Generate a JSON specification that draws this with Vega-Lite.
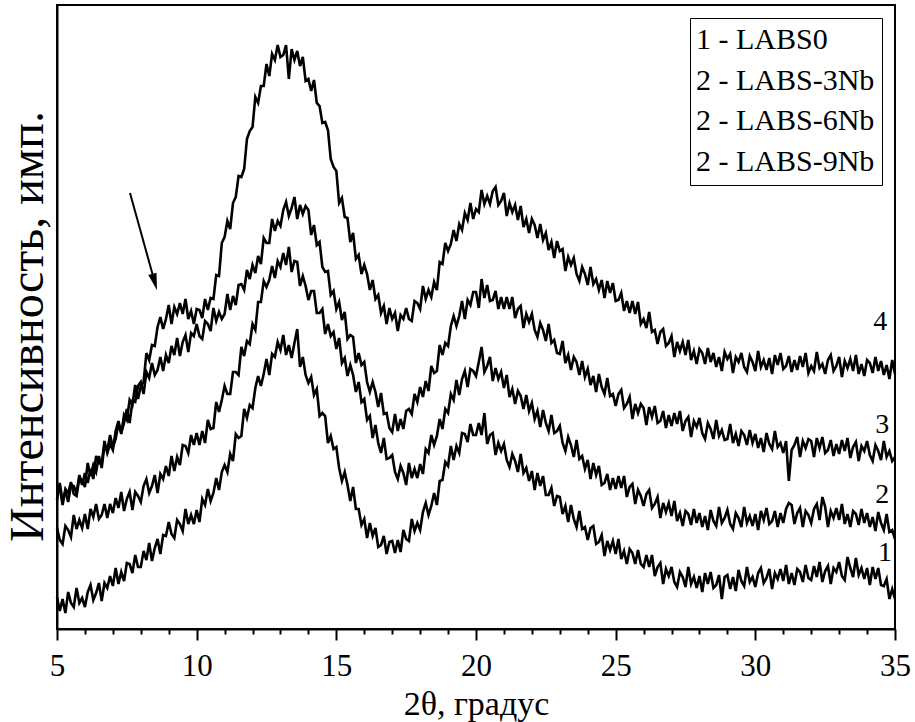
{
"$schema":"https://vega.github.io/schema/vega-lite/v6.json",
"autosize":{"type":"none"},
"width":838,"height":624,
"padding":{"left":57,"top":5,"right":20,"bottom":93},
"background":"white",
"config":{"view":{"stroke":"black","strokeWidth":2},"font":"Liberation Serif",
"axis":{"grid":false,"domainColor":"black","domainWidth":2,"tickColor":"black","tickWidth":2,"labelColor":"black","titleColor":"black","titleFontWeight":"normal","labelFont":"Liberation Serif","titleFont":"Liberation Serif"}},
"datasets":{
"c1":[{"x":5,"y":32},{"x":5.1,"y":18},{"x":5.2,"y":30},{"x":5.3,"y":16},{"x":5.4,"y":37},{"x":5.5,"y":26},{"x":5.6,"y":22},{"x":5.7,"y":41},{"x":5.8,"y":26},{"x":5.9,"y":31},{"x":6,"y":22},{"x":6.1,"y":37},{"x":6.2,"y":44},{"x":6.3,"y":29},{"x":6.4,"y":36},{"x":6.5,"y":46},{"x":6.6,"y":28},{"x":6.7,"y":46},{"x":6.8,"y":41},{"x":6.9,"y":53},{"x":7,"y":43},{"x":7.1,"y":61},{"x":7.2,"y":45},{"x":7.3,"y":57},{"x":7.4,"y":48},{"x":7.5,"y":66},{"x":7.6,"y":65},{"x":7.7,"y":56},{"x":7.8,"y":74},{"x":7.9,"y":62},{"x":8,"y":62},{"x":8.1,"y":78},{"x":8.2,"y":69},{"x":8.3,"y":86},{"x":8.4,"y":68},{"x":8.5,"y":81},{"x":8.6,"y":90},{"x":8.7,"y":75},{"x":8.8,"y":94},{"x":8.9,"y":93},{"x":9,"y":107},{"x":9.1,"y":95},{"x":9.2,"y":91},{"x":9.3,"y":109},{"x":9.4,"y":105},{"x":9.5,"y":98},{"x":9.6,"y":120},{"x":9.7,"y":105},{"x":9.8,"y":114},{"x":9.9,"y":105},{"x":10,"y":119},{"x":10.1,"y":107},{"x":10.2,"y":130},{"x":10.3,"y":124},{"x":10.4,"y":140},{"x":10.5,"y":128},{"x":10.6,"y":136},{"x":10.7,"y":151},{"x":10.8,"y":139},{"x":10.9,"y":157},{"x":11,"y":164},{"x":11.1,"y":157},{"x":11.2,"y":175},{"x":11.3,"y":168},{"x":11.4,"y":195},{"x":11.5,"y":191},{"x":11.6,"y":193},{"x":11.7,"y":220},{"x":11.8,"y":211},{"x":11.9,"y":224},{"x":12,"y":221},{"x":12.1,"y":241},{"x":12.2,"y":253},{"x":12.3,"y":243},{"x":12.4,"y":255},{"x":12.5,"y":270},{"x":12.6,"y":254},{"x":12.7,"y":275},{"x":12.8,"y":272},{"x":12.9,"y":287},{"x":13,"y":279},{"x":13.1,"y":294},{"x":13.2,"y":274},{"x":13.3,"y":284},{"x":13.4,"y":271},{"x":13.5,"y":286},{"x":13.6,"y":300},{"x":13.7,"y":262},{"x":13.8,"y":272},{"x":13.9,"y":254},{"x":14,"y":246},{"x":14.1,"y":252},{"x":14.2,"y":234},{"x":14.3,"y":240},{"x":14.4,"y":213},{"x":14.5,"y":216},{"x":14.6,"y":213},{"x":14.7,"y":186},{"x":14.8,"y":193},{"x":14.9,"y":180},{"x":15,"y":182},{"x":15.1,"y":161},{"x":15.2,"y":148},{"x":15.3,"y":157},{"x":15.4,"y":144},{"x":15.5,"y":128},{"x":15.6,"y":142},{"x":15.7,"y":120},{"x":15.8,"y":120},{"x":15.9,"y":104},{"x":16,"y":110},{"x":16.1,"y":91},{"x":16.2,"y":106},{"x":16.3,"y":93},{"x":16.4,"y":101},{"x":16.5,"y":82},{"x":16.6,"y":84},{"x":16.7,"y":93},{"x":16.8,"y":75},{"x":16.9,"y":87},{"x":17,"y":88},{"x":17.1,"y":76},{"x":17.2,"y":89},{"x":17.3,"y":77},{"x":17.4,"y":99},{"x":17.5,"y":90},{"x":17.6,"y":88},{"x":17.7,"y":110},{"x":17.8,"y":98},{"x":17.9,"y":106},{"x":18,"y":99},{"x":18.1,"y":117},{"x":18.2,"y":126},{"x":18.3,"y":114},{"x":18.4,"y":123},{"x":18.5,"y":136},{"x":18.6,"y":124},{"x":18.7,"y":148},{"x":18.8,"y":149},{"x":18.9,"y":167},{"x":19,"y":163},{"x":19.1,"y":183},{"x":19.2,"y":169},{"x":19.3,"y":183},{"x":19.4,"y":176},{"x":19.5,"y":196},{"x":19.6,"y":195},{"x":19.7,"y":187},{"x":19.8,"y":205},{"x":19.9,"y":194},{"x":20,"y":194},{"x":20.1,"y":206},{"x":20.2,"y":194},{"x":20.3,"y":216},{"x":20.4,"y":185},{"x":20.5,"y":194},{"x":20.6,"y":196},{"x":20.7,"y":174},{"x":20.8,"y":186},{"x":20.9,"y":178},{"x":21,"y":185},{"x":21.1,"y":169},{"x":21.2,"y":162},{"x":21.3,"y":175},{"x":21.4,"y":168},{"x":21.5,"y":157},{"x":21.6,"y":175},{"x":21.7,"y":156},{"x":21.8,"y":161},{"x":21.9,"y":148},{"x":22,"y":158},{"x":22.1,"y":139},{"x":22.2,"y":156},{"x":22.3,"y":143},{"x":22.4,"y":153},{"x":22.5,"y":134},{"x":22.6,"y":134},{"x":22.7,"y":141},{"x":22.8,"y":123},{"x":22.9,"y":133},{"x":23,"y":132},{"x":23.1,"y":115},{"x":23.2,"y":123},{"x":23.3,"y":107},{"x":23.4,"y":124},{"x":23.5,"y":110},{"x":23.6,"y":102},{"x":23.7,"y":118},{"x":23.8,"y":100},{"x":23.9,"y":102},{"x":24,"y":89},{"x":24.1,"y":101},{"x":24.2,"y":103},{"x":24.3,"y":85},{"x":24.4,"y":87},{"x":24.5,"y":94},{"x":24.6,"y":73},{"x":24.7,"y":88},{"x":24.8,"y":79},{"x":24.9,"y":88},{"x":25,"y":75},{"x":25.1,"y":90},{"x":25.2,"y":70},{"x":25.3,"y":78},{"x":25.4,"y":65},{"x":25.5,"y":80},{"x":25.6,"y":76},{"x":25.7,"y":65},{"x":25.8,"y":79},{"x":25.9,"y":65},{"x":26,"y":62},{"x":26.1,"y":74},{"x":26.2,"y":62},{"x":26.3,"y":74},{"x":26.4,"y":53},{"x":26.5,"y":62},{"x":26.6,"y":66},{"x":26.7,"y":45},{"x":26.8,"y":60},{"x":26.9,"y":53},{"x":27,"y":62},{"x":27.1,"y":47},{"x":27.2,"y":42},{"x":27.3,"y":57},{"x":27.4,"y":52},{"x":27.5,"y":42},{"x":27.6,"y":62},{"x":27.7,"y":45},{"x":27.8,"y":52},{"x":27.9,"y":41},{"x":28,"y":53},{"x":28.1,"y":37},{"x":28.2,"y":56},{"x":28.3,"y":45},{"x":28.4,"y":57},{"x":28.5,"y":41},{"x":28.6,"y":44},{"x":28.7,"y":54},{"x":28.8,"y":30},{"x":28.9,"y":52},{"x":29,"y":54},{"x":29.1,"y":40},{"x":29.2,"y":52},{"x":29.3,"y":38},{"x":29.4,"y":59},{"x":29.5,"y":48},{"x":29.6,"y":43},{"x":29.7,"y":62},{"x":29.8,"y":47},{"x":29.9,"y":52},{"x":30,"y":42},{"x":30.1,"y":56},{"x":30.2,"y":61},{"x":30.3,"y":46},{"x":30.4,"y":51},{"x":30.5,"y":60},{"x":30.6,"y":40},{"x":30.7,"y":56},{"x":30.8,"y":50},{"x":30.9,"y":60},{"x":31,"y":48},{"x":31.1,"y":64},{"x":31.2,"y":45},{"x":31.3,"y":56},{"x":31.4,"y":44},{"x":31.5,"y":60},{"x":31.6,"y":57},{"x":31.7,"y":47},{"x":31.8,"y":64},{"x":31.9,"y":51},{"x":32,"y":49},{"x":32.1,"y":63},{"x":32.2,"y":52},{"x":32.3,"y":67},{"x":32.4,"y":47},{"x":32.5,"y":58},{"x":32.6,"y":63},{"x":32.7,"y":45},{"x":32.8,"y":61},{"x":32.9,"y":57},{"x":33,"y":67},{"x":33.1,"y":53},{"x":33.2,"y":49},{"x":33.3,"y":72},{"x":33.4,"y":61},{"x":33.5,"y":52},{"x":33.6,"y":71},{"x":33.7,"y":54},{"x":33.8,"y":61},{"x":33.9,"y":50},{"x":34,"y":61},{"x":34.1,"y":44},{"x":34.2,"y":62},{"x":34.3,"y":50},{"x":34.4,"y":61},{"x":34.5,"y":44},{"x":34.6,"y":43},{"x":34.7,"y":50},{"x":34.8,"y":30},{"x":34.9,"y":40},{"x":35,"y":30}],
"c2":[{"x":5,"y":101},{"x":5.1,"y":89},{"x":5.2,"y":85},{"x":5.3,"y":103},{"x":5.4,"y":99},{"x":5.5,"y":92},{"x":5.6,"y":114},{"x":5.7,"y":100},{"x":5.8,"y":109},{"x":5.9,"y":101},{"x":6,"y":115},{"x":6.1,"y":100},{"x":6.2,"y":120},{"x":6.3,"y":112},{"x":6.4,"y":125},{"x":6.5,"y":110},{"x":6.6,"y":114},{"x":6.7,"y":125},{"x":6.8,"y":111},{"x":6.9,"y":125},{"x":7,"y":116},{"x":7.1,"y":131},{"x":7.2,"y":121},{"x":7.3,"y":137},{"x":7.4,"y":118},{"x":7.5,"y":130},{"x":7.6,"y":137},{"x":7.7,"y":119},{"x":7.8,"y":137},{"x":7.9,"y":133},{"x":8,"y":127},{"x":8.1,"y":143},{"x":8.2,"y":150},{"x":8.3,"y":136},{"x":8.4,"y":143},{"x":8.5,"y":154},{"x":8.6,"y":136},{"x":8.7,"y":155},{"x":8.8,"y":150},{"x":8.9,"y":163},{"x":9,"y":153},{"x":9.1,"y":173},{"x":9.2,"y":158},{"x":9.3,"y":172},{"x":9.4,"y":164},{"x":9.5,"y":184},{"x":9.6,"y":183},{"x":9.7,"y":176},{"x":9.8,"y":194},{"x":9.9,"y":184},{"x":10,"y":196},{"x":10.1,"y":184},{"x":10.2,"y":198},{"x":10.3,"y":186},{"x":10.4,"y":209},{"x":10.5,"y":200},{"x":10.6,"y":201},{"x":10.7,"y":227},{"x":10.8,"y":217},{"x":10.9,"y":229},{"x":11,"y":243},{"x":11.1,"y":235},{"x":11.2,"y":235},{"x":11.3,"y":257},{"x":11.4,"y":257},{"x":11.5,"y":254},{"x":11.6,"y":282},{"x":11.7,"y":273},{"x":11.8,"y":288},{"x":11.9,"y":285},{"x":12,"y":305},{"x":12.1,"y":299},{"x":12.2,"y":327},{"x":12.3,"y":327},{"x":12.4,"y":348},{"x":12.5,"y":342},{"x":12.6,"y":349},{"x":12.7,"y":363},{"x":12.8,"y":351},{"x":12.9,"y":368},{"x":13,"y":362},{"x":13.1,"y":376},{"x":13.2,"y":364},{"x":13.3,"y":382},{"x":13.4,"y":357},{"x":13.5,"y":368},{"x":13.6,"y":367},{"x":13.7,"y":343},{"x":13.8,"y":353},{"x":13.9,"y":343},{"x":14,"y":329},{"x":14.1,"y":338},{"x":14.2,"y":338},{"x":14.3,"y":316},{"x":14.4,"y":316},{"x":14.5,"y":320},{"x":14.6,"y":295},{"x":14.7,"y":305},{"x":14.8,"y":293},{"x":14.9,"y":297},{"x":15,"y":280},{"x":15.1,"y":291},{"x":15.2,"y":266},{"x":15.3,"y":271},{"x":15.4,"y":253},{"x":15.5,"y":264},{"x":15.6,"y":254},{"x":15.7,"y":237},{"x":15.8,"y":247},{"x":15.9,"y":227},{"x":16,"y":230},{"x":16.1,"y":209},{"x":16.2,"y":213},{"x":16.3,"y":191},{"x":16.4,"y":204},{"x":16.5,"y":186},{"x":16.6,"y":176},{"x":16.7,"y":191},{"x":16.8,"y":170},{"x":16.9,"y":171},{"x":17,"y":174},{"x":17.1,"y":157},{"x":17.2,"y":150},{"x":17.3,"y":163},{"x":17.4,"y":156},{"x":17.5,"y":144},{"x":17.6,"y":166},{"x":17.7,"y":151},{"x":17.8,"y":160},{"x":17.9,"y":151},{"x":18,"y":165},{"x":18.1,"y":155},{"x":18.2,"y":180},{"x":18.3,"y":176},{"x":18.4,"y":194},{"x":18.5,"y":184},{"x":18.6,"y":193},{"x":18.7,"y":210},{"x":18.8,"y":200},{"x":18.9,"y":220},{"x":19,"y":216},{"x":19.1,"y":235},{"x":19.2,"y":229},{"x":19.3,"y":249},{"x":19.4,"y":234},{"x":19.5,"y":250},{"x":19.6,"y":258},{"x":19.7,"y":242},{"x":19.8,"y":260},{"x":19.9,"y":258},{"x":20,"y":253},{"x":20.1,"y":267},{"x":20.2,"y":282},{"x":20.3,"y":257},{"x":20.4,"y":263},{"x":20.5,"y":272},{"x":20.6,"y":248},{"x":20.7,"y":261},{"x":20.8,"y":250},{"x":20.9,"y":257},{"x":21,"y":241},{"x":21.1,"y":254},{"x":21.2,"y":232},{"x":21.3,"y":240},{"x":21.4,"y":225},{"x":21.5,"y":238},{"x":21.6,"y":233},{"x":21.7,"y":220},{"x":21.8,"y":234},{"x":21.9,"y":218},{"x":22,"y":226},{"x":22.1,"y":210},{"x":22.2,"y":218},{"x":22.3,"y":202},{"x":22.4,"y":219},{"x":22.5,"y":206},{"x":22.6,"y":198},{"x":22.7,"y":214},{"x":22.8,"y":196},{"x":22.9,"y":198},{"x":23,"y":203},{"x":23.1,"y":186},{"x":23.2,"y":178},{"x":23.3,"y":192},{"x":23.4,"y":184},{"x":23.5,"y":172},{"x":23.6,"y":189},{"x":23.7,"y":170},{"x":23.8,"y":173},{"x":23.9,"y":160},{"x":24,"y":169},{"x":24.1,"y":150},{"x":24.2,"y":166},{"x":24.3,"y":154},{"x":24.4,"y":163},{"x":24.5,"y":144},{"x":24.6,"y":146},{"x":24.7,"y":155},{"x":24.8,"y":139},{"x":24.9,"y":151},{"x":25,"y":140},{"x":25.1,"y":153},{"x":25.2,"y":141},{"x":25.3,"y":153},{"x":25.4,"y":132},{"x":25.5,"y":142},{"x":25.6,"y":145},{"x":25.7,"y":125},{"x":25.8,"y":139},{"x":25.9,"y":133},{"x":26,"y":123},{"x":26.1,"y":135},{"x":26.2,"y":139},{"x":26.3,"y":121},{"x":26.4,"y":125},{"x":26.5,"y":132},{"x":26.6,"y":111},{"x":26.7,"y":126},{"x":26.8,"y":117},{"x":26.9,"y":126},{"x":27,"y":113},{"x":27.1,"y":128},{"x":27.2,"y":108},{"x":27.3,"y":116},{"x":27.4,"y":103},{"x":27.5,"y":118},{"x":27.6,"y":115},{"x":27.7,"y":104},{"x":27.8,"y":120},{"x":27.9,"y":106},{"x":28,"y":116},{"x":28.1,"y":102},{"x":28.2,"y":113},{"x":28.3,"y":99},{"x":28.4,"y":119},{"x":28.5,"y":108},{"x":28.6,"y":103},{"x":28.7,"y":122},{"x":28.8,"y":106},{"x":28.9,"y":111},{"x":29,"y":119},{"x":29.1,"y":105},{"x":29.2,"y":100},{"x":29.3,"y":116},{"x":29.4,"y":111},{"x":29.5,"y":102},{"x":29.6,"y":122},{"x":29.7,"y":106},{"x":29.8,"y":113},{"x":29.9,"y":103},{"x":30,"y":115},{"x":30.1,"y":99},{"x":30.2,"y":118},{"x":30.3,"y":109},{"x":30.4,"y":121},{"x":30.5,"y":105},{"x":30.6,"y":108},{"x":30.7,"y":118},{"x":30.8,"y":102},{"x":30.9,"y":116},{"x":31,"y":106},{"x":31.1,"y":120},{"x":31.2,"y":126},{"x":31.3,"y":124},{"x":31.4,"y":105},{"x":31.5,"y":116},{"x":31.6,"y":121},{"x":31.7,"y":102},{"x":31.8,"y":118},{"x":31.9,"y":114},{"x":32,"y":106},{"x":32.1,"y":120},{"x":32.2,"y":125},{"x":32.3,"y":109},{"x":32.4,"y":132},{"x":32.5,"y":122},{"x":32.6,"y":102},{"x":32.7,"y":118},{"x":32.8,"y":111},{"x":32.9,"y":121},{"x":33,"y":109},{"x":33.1,"y":125},{"x":33.2,"y":105},{"x":33.3,"y":115},{"x":33.4,"y":102},{"x":33.5,"y":118},{"x":33.6,"y":115},{"x":33.7,"y":104},{"x":33.8,"y":120},{"x":33.9,"y":106},{"x":34,"y":116},{"x":34.1,"y":102},{"x":34.2,"y":112},{"x":34.3,"y":98},{"x":34.4,"y":117},{"x":34.5,"y":106},{"x":34.6,"y":99},{"x":34.7,"y":115},{"x":34.8,"y":97},{"x":34.9,"y":99},{"x":35,"y":90}],
"c3":[{"x":5,"y":129},{"x":5.1,"y":146},{"x":5.2,"y":128},{"x":5.3,"y":138},{"x":5.4,"y":127},{"x":5.5,"y":144},{"x":5.6,"y":143},{"x":5.7,"y":136},{"x":5.8,"y":154},{"x":5.9,"y":144},{"x":6,"y":156},{"x":6.1,"y":146},{"x":6.2,"y":160},{"x":6.3,"y":150},{"x":6.4,"y":173},{"x":6.5,"y":166},{"x":6.6,"y":165},{"x":6.7,"y":188},{"x":6.8,"y":176},{"x":6.9,"y":185},{"x":7,"y":179},{"x":7.1,"y":198},{"x":7.2,"y":208},{"x":7.3,"y":196},{"x":7.4,"y":206},{"x":7.5,"y":220},{"x":7.6,"y":206},{"x":7.7,"y":228},{"x":7.8,"y":227},{"x":7.9,"y":243},{"x":8,"y":247},{"x":8.1,"y":235},{"x":8.2,"y":257},{"x":8.3,"y":251},{"x":8.4,"y":266},{"x":8.5,"y":254},{"x":8.6,"y":259},{"x":8.7,"y":272},{"x":8.8,"y":258},{"x":8.9,"y":274},{"x":9,"y":266},{"x":9.1,"y":283},{"x":9.2,"y":274},{"x":9.3,"y":291},{"x":9.4,"y":273},{"x":9.5,"y":287},{"x":9.6,"y":294},{"x":9.7,"y":277},{"x":9.8,"y":296},{"x":9.9,"y":293},{"x":10,"y":305},{"x":10.1,"y":293},{"x":10.2,"y":290},{"x":10.3,"y":308},{"x":10.4,"y":305},{"x":10.5,"y":298},{"x":10.6,"y":321},{"x":10.7,"y":308},{"x":10.8,"y":317},{"x":10.9,"y":310},{"x":11,"y":315},{"x":11.1,"y":335},{"x":11.2,"y":319},{"x":11.3,"y":333},{"x":11.4,"y":324},{"x":11.5,"y":344},{"x":11.6,"y":345},{"x":11.7,"y":339},{"x":11.8,"y":359},{"x":11.9,"y":350},{"x":12,"y":364},{"x":12.1,"y":356},{"x":12.2,"y":373},{"x":12.3,"y":365},{"x":12.4,"y":391},{"x":12.5,"y":386},{"x":12.6,"y":386},{"x":12.7,"y":410},{"x":12.8,"y":398},{"x":12.9,"y":408},{"x":13,"y":403},{"x":13.1,"y":419},{"x":13.2,"y":427},{"x":13.3,"y":413},{"x":13.4,"y":421},{"x":13.5,"y":432},{"x":13.6,"y":410},{"x":13.7,"y":424},{"x":13.8,"y":415},{"x":13.9,"y":423},{"x":14,"y":419},{"x":14.1,"y":394},{"x":14.2,"y":404},{"x":14.3,"y":384},{"x":14.4,"y":387},{"x":14.5,"y":362},{"x":14.6,"y":357},{"x":14.7,"y":358},{"x":14.8,"y":334},{"x":14.9,"y":338},{"x":15,"y":320},{"x":15.1,"y":327},{"x":15.2,"y":309},{"x":15.3,"y":317},{"x":15.4,"y":290},{"x":15.5,"y":294},{"x":15.6,"y":292},{"x":15.7,"y":266},{"x":15.8,"y":276},{"x":15.9,"y":264},{"x":16,"y":267},{"x":16.1,"y":247},{"x":16.2,"y":237},{"x":16.3,"y":247},{"x":16.4,"y":237},{"x":16.5,"y":222},{"x":16.6,"y":236},{"x":16.7,"y":215},{"x":16.8,"y":216},{"x":16.9,"y":201},{"x":17,"y":197},{"x":17.1,"y":215},{"x":17.2,"y":198},{"x":17.3,"y":210},{"x":17.4,"y":200},{"x":17.5,"y":218},{"x":17.6,"y":220},{"x":17.7,"y":215},{"x":17.8,"y":235},{"x":17.9,"y":227},{"x":18,"y":242},{"x":18.1,"y":232},{"x":18.2,"y":248},{"x":18.3,"y":238},{"x":18.4,"y":263},{"x":18.5,"y":256},{"x":18.6,"y":258},{"x":18.7,"y":284},{"x":18.8,"y":274},{"x":18.9,"y":286},{"x":19,"y":283},{"x":19.1,"y":303},{"x":19.2,"y":313},{"x":19.3,"y":303},{"x":19.4,"y":313},{"x":19.5,"y":328},{"x":19.6,"y":310},{"x":19.7,"y":329},{"x":19.8,"y":324},{"x":19.9,"y":337},{"x":20,"y":337},{"x":20.1,"y":321},{"x":20.2,"y":350},{"x":20.3,"y":331},{"x":20.4,"y":344},{"x":20.5,"y":328},{"x":20.6,"y":329},{"x":20.7,"y":338},{"x":20.8,"y":320},{"x":20.9,"y":332},{"x":21,"y":320},{"x":21.1,"y":332},{"x":21.2,"y":320},{"x":21.3,"y":332},{"x":21.4,"y":311},{"x":21.5,"y":320},{"x":21.6,"y":323},{"x":21.7,"y":301},{"x":21.8,"y":315},{"x":21.9,"y":307},{"x":22,"y":315},{"x":22.1,"y":299},{"x":22.2,"y":292},{"x":22.3,"y":306},{"x":22.4,"y":299},{"x":22.5,"y":288},{"x":22.6,"y":305},{"x":22.7,"y":286},{"x":22.8,"y":289},{"x":22.9,"y":276},{"x":23,"y":275},{"x":23.1,"y":288},{"x":23.2,"y":266},{"x":23.3,"y":274},{"x":23.4,"y":259},{"x":23.5,"y":272},{"x":23.6,"y":267},{"x":23.7,"y":254},{"x":23.8,"y":268},{"x":23.9,"y":252},{"x":24,"y":260},{"x":24.1,"y":244},{"x":24.2,"y":253},{"x":24.3,"y":237},{"x":24.4,"y":255},{"x":24.5,"y":242},{"x":24.6,"y":235},{"x":24.7,"y":251},{"x":24.8,"y":233},{"x":24.9,"y":235},{"x":25,"y":223},{"x":25.1,"y":235},{"x":25.2,"y":239},{"x":25.3,"y":221},{"x":25.4,"y":225},{"x":25.5,"y":232},{"x":25.6,"y":210},{"x":25.7,"y":225},{"x":25.8,"y":216},{"x":25.9,"y":225},{"x":26,"y":221},{"x":26.1,"y":204},{"x":26.2,"y":222},{"x":26.3,"y":212},{"x":26.4,"y":223},{"x":26.5,"y":206},{"x":26.6,"y":208},{"x":26.7,"y":218},{"x":26.8,"y":201},{"x":26.9,"y":214},{"x":27,"y":203},{"x":27.1,"y":216},{"x":27.2,"y":205},{"x":27.3,"y":218},{"x":27.4,"y":198},{"x":27.5,"y":208},{"x":27.6,"y":212},{"x":27.7,"y":192},{"x":27.8,"y":208},{"x":27.9,"y":202},{"x":28,"y":211},{"x":28.1,"y":196},{"x":28.2,"y":190},{"x":28.3,"y":206},{"x":28.4,"y":200},{"x":28.5,"y":190},{"x":28.6,"y":209},{"x":28.7,"y":193},{"x":28.8,"y":199},{"x":28.9,"y":189},{"x":29,"y":190},{"x":29.1,"y":205},{"x":29.2,"y":186},{"x":29.3,"y":195},{"x":29.4,"y":183},{"x":29.5,"y":198},{"x":29.6,"y":194},{"x":29.7,"y":184},{"x":29.8,"y":199},{"x":29.9,"y":186},{"x":30,"y":195},{"x":30.1,"y":181},{"x":30.2,"y":191},{"x":30.3,"y":177},{"x":30.4,"y":196},{"x":30.5,"y":185},{"x":30.6,"y":180},{"x":30.7,"y":198},{"x":30.8,"y":182},{"x":30.9,"y":186},{"x":31,"y":176},{"x":31.1,"y":188},{"x":31.2,"y":148},{"x":31.3,"y":179},{"x":31.4,"y":184},{"x":31.5,"y":192},{"x":31.6,"y":172},{"x":31.7,"y":188},{"x":31.8,"y":181},{"x":31.9,"y":190},{"x":32,"y":188},{"x":32.1,"y":172},{"x":32.2,"y":191},{"x":32.3,"y":181},{"x":32.4,"y":192},{"x":32.5,"y":176},{"x":32.6,"y":179},{"x":32.7,"y":189},{"x":32.8,"y":173},{"x":32.9,"y":185},{"x":33,"y":175},{"x":33.1,"y":189},{"x":33.2,"y":178},{"x":33.3,"y":191},{"x":33.4,"y":171},{"x":33.5,"y":182},{"x":33.6,"y":187},{"x":33.7,"y":168},{"x":33.8,"y":183},{"x":33.9,"y":178},{"x":34,"y":188},{"x":34.1,"y":174},{"x":34.2,"y":168},{"x":34.3,"y":184},{"x":34.4,"y":178},{"x":34.5,"y":169},{"x":34.6,"y":188},{"x":34.7,"y":172},{"x":34.8,"y":178},{"x":34.9,"y":168},{"x":35,"y":172}],
"c4":[{"x":5,"y":136},{"x":5.1,"y":142},{"x":5.2,"y":124},{"x":5.3,"y":140},{"x":5.4,"y":136},{"x":5.5,"y":147},{"x":5.6,"y":135},{"x":5.7,"y":133},{"x":5.8,"y":151},{"x":5.9,"y":149},{"x":6,"y":142},{"x":6.1,"y":166},{"x":6.2,"y":153},{"x":6.3,"y":164},{"x":6.4,"y":157},{"x":6.5,"y":173},{"x":6.6,"y":161},{"x":6.7,"y":184},{"x":6.8,"y":178},{"x":6.9,"y":194},{"x":7,"y":182},{"x":7.1,"y":190},{"x":7.2,"y":206},{"x":7.3,"y":195},{"x":7.4,"y":214},{"x":7.5,"y":209},{"x":7.6,"y":229},{"x":7.7,"y":224},{"x":7.8,"y":244},{"x":7.9,"y":230},{"x":8,"y":243},{"x":8.1,"y":247},{"x":8.2,"y":276},{"x":8.3,"y":269},{"x":8.4,"y":284},{"x":8.5,"y":283},{"x":8.6,"y":302},{"x":8.7,"y":312},{"x":8.8,"y":300},{"x":8.9,"y":310},{"x":9,"y":324},{"x":9.1,"y":305},{"x":9.2,"y":322},{"x":9.3,"y":315},{"x":9.4,"y":326},{"x":9.5,"y":315},{"x":9.6,"y":330},{"x":9.7,"y":310},{"x":9.8,"y":318},{"x":9.9,"y":305},{"x":10,"y":320},{"x":10.1,"y":319},{"x":10.2,"y":311},{"x":10.3,"y":330},{"x":10.4,"y":319},{"x":10.5,"y":331},{"x":10.6,"y":330},{"x":10.7,"y":354},{"x":10.8,"y":353},{"x":10.9,"y":386},{"x":11,"y":392},{"x":11.1,"y":408},{"x":11.2,"y":400},{"x":11.3,"y":426},{"x":11.4,"y":432},{"x":11.5,"y":453},{"x":11.6,"y":452},{"x":11.7,"y":460},{"x":11.8,"y":490},{"x":11.9,"y":498},{"x":12,"y":502},{"x":12.1,"y":532},{"x":12.2,"y":526},{"x":12.3,"y":543},{"x":12.4,"y":543},{"x":12.5,"y":565},{"x":12.6,"y":553},{"x":12.7,"y":575},{"x":12.8,"y":569},{"x":12.9,"y":584},{"x":13,"y":572},{"x":13.1,"y":574},{"x":13.2,"y":584},{"x":13.3,"y":550},{"x":13.4,"y":580},{"x":13.5,"y":569},{"x":13.6,"y":578},{"x":13.7,"y":563},{"x":13.8,"y":572},{"x":13.9,"y":548},{"x":14,"y":550},{"x":14.1,"y":538},{"x":14.2,"y":549},{"x":14.3,"y":526},{"x":14.4,"y":523},{"x":14.5,"y":506},{"x":14.6,"y":507},{"x":14.7,"y":499},{"x":14.8,"y":470},{"x":14.9,"y":462},{"x":15,"y":458},{"x":15.1,"y":426},{"x":15.2,"y":431},{"x":15.3,"y":412},{"x":15.4,"y":411},{"x":15.5,"y":387},{"x":15.6,"y":396},{"x":15.7,"y":370},{"x":15.8,"y":374},{"x":15.9,"y":355},{"x":16,"y":364},{"x":16.1,"y":355},{"x":16.2,"y":339},{"x":16.3,"y":349},{"x":16.4,"y":330},{"x":16.5,"y":334},{"x":16.6,"y":316},{"x":16.7,"y":323},{"x":16.8,"y":305},{"x":16.9,"y":321},{"x":17,"y":310},{"x":17.1,"y":316},{"x":17.2,"y":298},{"x":17.3,"y":314},{"x":17.4,"y":310},{"x":17.5,"y":321},{"x":17.6,"y":310},{"x":17.7,"y":308},{"x":17.8,"y":328},{"x":17.9,"y":326},{"x":18,"y":320},{"x":18.1,"y":343},{"x":18.2,"y":330},{"x":18.3,"y":339},{"x":18.4,"y":332},{"x":18.5,"y":347},{"x":18.6,"y":339},{"x":18.7,"y":367},{"x":18.8,"y":365},{"x":18.9,"y":386},{"x":19,"y":378},{"x":19.1,"y":385},{"x":19.2,"y":399},{"x":19.3,"y":388},{"x":19.4,"y":405},{"x":19.5,"y":399},{"x":19.6,"y":416},{"x":19.7,"y":409},{"x":19.8,"y":426},{"x":19.9,"y":410},{"x":20,"y":420},{"x":20.1,"y":417},{"x":20.2,"y":439},{"x":20.3,"y":425},{"x":20.4,"y":433},{"x":20.5,"y":425},{"x":20.6,"y":438},{"x":20.7,"y":442},{"x":20.8,"y":424},{"x":20.9,"y":428},{"x":21,"y":436},{"x":21.1,"y":413},{"x":21.2,"y":426},{"x":21.3,"y":417},{"x":21.4,"y":424},{"x":21.5,"y":409},{"x":21.6,"y":423},{"x":21.7,"y":402},{"x":21.8,"y":410},{"x":21.9,"y":396},{"x":22,"y":410},{"x":22.1,"y":404},{"x":22.2,"y":391},{"x":22.3,"y":405},{"x":22.4,"y":389},{"x":22.5,"y":396},{"x":22.6,"y":379},{"x":22.7,"y":387},{"x":22.8,"y":371},{"x":22.9,"y":388},{"x":23,"y":378},{"x":23.1,"y":380},{"x":23.2,"y":358},{"x":23.3,"y":372},{"x":23.4,"y":364},{"x":23.5,"y":371},{"x":23.6,"y":355},{"x":23.7,"y":348},{"x":23.8,"y":362},{"x":23.9,"y":355},{"x":24,"y":344},{"x":24.1,"y":362},{"x":24.2,"y":345},{"x":24.3,"y":350},{"x":24.4,"y":339},{"x":24.5,"y":349},{"x":24.6,"y":331},{"x":24.7,"y":348},{"x":24.8,"y":336},{"x":24.9,"y":346},{"x":25,"y":328},{"x":25.1,"y":329},{"x":25.2,"y":336},{"x":25.3,"y":318},{"x":25.4,"y":328},{"x":25.5,"y":316},{"x":25.6,"y":328},{"x":25.7,"y":315},{"x":25.8,"y":327},{"x":25.9,"y":305},{"x":26,"y":310},{"x":26.1,"y":301},{"x":26.2,"y":317},{"x":26.3,"y":297},{"x":26.4,"y":299},{"x":26.5,"y":285},{"x":26.6,"y":297},{"x":26.7,"y":300},{"x":26.8,"y":283},{"x":26.9,"y":286},{"x":27,"y":293},{"x":27.1,"y":272},{"x":27.2,"y":287},{"x":27.3,"y":278},{"x":27.4,"y":287},{"x":27.5,"y":274},{"x":27.6,"y":289},{"x":27.7,"y":269},{"x":27.8,"y":278},{"x":27.9,"y":265},{"x":28,"y":280},{"x":28.1,"y":276},{"x":28.2,"y":265},{"x":28.3,"y":281},{"x":28.4,"y":267},{"x":28.5,"y":276},{"x":28.6,"y":262},{"x":28.7,"y":272},{"x":28.8,"y":258},{"x":28.9,"y":277},{"x":29,"y":270},{"x":29.1,"y":275},{"x":29.2,"y":256},{"x":29.3,"y":272},{"x":29.4,"y":267},{"x":29.5,"y":276},{"x":29.6,"y":262},{"x":29.7,"y":257},{"x":29.8,"y":273},{"x":29.9,"y":267},{"x":30,"y":258},{"x":30.1,"y":278},{"x":30.2,"y":262},{"x":30.3,"y":269},{"x":30.4,"y":259},{"x":30.5,"y":271},{"x":30.6,"y":255},{"x":30.7,"y":274},{"x":30.8,"y":264},{"x":30.9,"y":276},{"x":31,"y":260},{"x":31.1,"y":263},{"x":31.2,"y":273},{"x":31.3,"y":257},{"x":31.4,"y":269},{"x":31.5,"y":259},{"x":31.6,"y":273},{"x":31.7,"y":262},{"x":31.8,"y":276},{"x":31.9,"y":256},{"x":32,"y":263},{"x":32.1,"y":258},{"x":32.2,"y":277},{"x":32.3,"y":261},{"x":32.4,"y":265},{"x":32.5,"y":255},{"x":32.6,"y":269},{"x":32.7,"y":274},{"x":32.8,"y":258},{"x":32.9,"y":263},{"x":33,"y":272},{"x":33.1,"y":252},{"x":33.2,"y":268},{"x":33.3,"y":261},{"x":33.4,"y":270},{"x":33.5,"y":258},{"x":33.6,"y":274},{"x":33.7,"y":255},{"x":33.8,"y":265},{"x":33.9,"y":253},{"x":34,"y":269},{"x":34.1,"y":266},{"x":34.2,"y":256},{"x":34.3,"y":272},{"x":34.4,"y":258},{"x":34.5,"y":268},{"x":34.6,"y":254},{"x":34.7,"y":264},{"x":34.8,"y":250},{"x":34.9,"y":269},{"x":35,"y":255}]
},
"encoding":{
"x":{"field":"x","type":"quantitative","scale":{"domain":[5,35],"nice":false,"zero":false},
"axis":{"values":[5,6,7,8,9,10,11,12,13,14,15,16,17,18,19,20,21,22,23,24,25,26,27,28,29,30,31,32,33,34,35],
"tickSize":{"condition":{"test":"datum.value % 5 === 0","value":11},"value":5},
"labelExpr":"datum.value % 5 === 0 ? datum.label : ''","labelFontSize":31,"labelPadding":11,"labelFlush":false,"labelOverlap":false,
"title":"2θ, градус","titleFontSize":34,"titlePadding":6}},
"y":{"field":"y","type":"quantitative","scale":{"domain":[0,624],"nice":false,"zero":false},
"axis":{"ticks":false,"labels":false,"title":"Интенсивность, имп.","titleFontSize":48,"titlePadding":5,"titleY":321}}
},
"layer":[
{"data":{"name":"c1"},"mark":{"type":"line","strokeWidth":2.6},"encoding":{"stroke":{"datum":"1 - LABS0","type":"nominal","scale":{"domain":["1 - LABS0","2 - LABS-3Nb","2 - LABS-6Nb","2 - LABS-9Nb"],"range":["black","black","black","black"]},
"legend":{"title":null,"orient":"top-right","offset":13,"strokeColor":"black","fillColor":"white","padding":7,"rowPadding":10.7,"labelFont":"Liberation Serif","labelFontSize":30,"labelColor":"black","labelOffset":-31,"symbolType":"circle","symbolSize":0,"symbolOpacity":0,"symbolStrokeWidth":0,"labelLimit":400}}}},
{"data":{"name":"c2"},"mark":{"type":"line","strokeWidth":2.6},"encoding":{"stroke":{"datum":"2 - LABS-3Nb","type":"nominal"}}},
{"data":{"name":"c3"},"mark":{"type":"line","strokeWidth":2.6},"encoding":{"stroke":{"datum":"2 - LABS-6Nb","type":"nominal"}}},
{"data":{"name":"c4"},"mark":{"type":"line","strokeWidth":2.6},"encoding":{"stroke":{"datum":"2 - LABS-9Nb","type":"nominal"}}},
{"data":{"values":[{"x":34.47,"y":307,"t":"4"},{"x":34.54,"y":204,"t":"3"},{"x":34.54,"y":134,"t":"2"},{"x":34.64,"y":76,"t":"1"}]},
"mark":{"type":"text","font":"Liberation Serif","fontSize":28,"color":"black","align":"center","baseline":"middle"},"encoding":{"text":{"field":"t"}}},
{"data":{"values":[{"x":7.613,"y":436,"x2":8.498,"y2":347}]},"mark":{"type":"rule","color":"black","strokeWidth":2},"encoding":{"x2":{"field":"x2"},"y2":{"field":"y2"}}},
{"data":{"values":[{"x":8.498,"y":347}]},"mark":{"type":"point","shape":"M-0.5,-1L0.5,-1L0,1Z","size":289,"filled":true,"color":"black","opacity":1,"angle":344.4},"encoding":{}}
]
}
